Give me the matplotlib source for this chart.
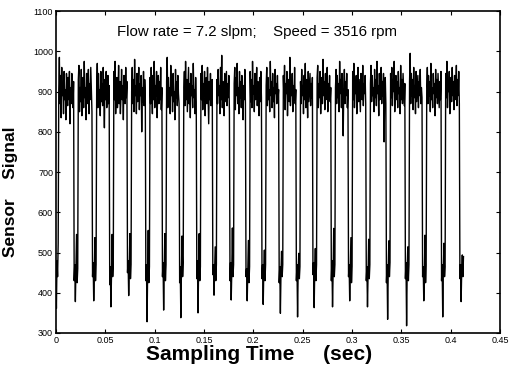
import numpy as np
import matplotlib
matplotlib.use('Agg')
import matplotlib.pyplot as plt

# sensor samples, one list per shaft revolution (low dip first, then the high band)
sample_interval = 0.0006  # sec
cycles = [
    [445, 361, 480, 440, 523,
     905, 985, 870, 940, 835, 960, 890, 920, 845, 950, 880, 905, 830, 945, 900, 865, 935, 880, 950, 820, 910, 870, 945, 895, 860, 925],
    [430, 470, 378, 455, 545, 425, 460,
     930, 965, 850, 910, 875, 955, 840, 900, 935, 860, 975, 885, 910, 830, 945, 870, 900, 955, 845, 920, 880, 960, 900, 850],
    [440, 475, 380, 450, 537, 430, 470,
     915, 970, 860, 945, 885, 905, 840, 950, 875, 920, 865, 960, 895, 810, 930, 880, 950, 860, 905, 940, 870, 915],
    [420, 465, 365, 445, 545, 440, 475,
     950, 880, 975, 845, 910, 935, 860, 900, 965, 870, 925, 845, 890, 955, 880, 915, 830, 940, 900, 870, 960, 885, 925],
    [450, 480, 393, 460, 547, 435, 470,
     900, 960, 870, 930, 850, 980, 890, 915, 845, 945, 875, 905, 960, 855, 920, 890, 940, 800, 910, 875, 950, 865, 930, 900],
    [430, 470, 328, 455, 555, 425, 465,
     935, 870, 960, 895, 845, 940, 880, 975, 860, 915, 890, 950, 835, 905, 940, 870, 925, 880, 960, 855, 910],
    [440, 475, 357, 450, 547, 430, 470,
     925, 985, 860, 935, 880, 910, 845, 965, 890, 920, 850, 945, 875, 900, 830, 955, 885, 925, 865, 940, 895, 870],
    [425, 465, 338, 455, 541, 440, 475,
     910, 950, 865, 975, 880, 930, 850, 905, 960, 870, 920, 835, 945, 890, 915, 860, 970, 885, 905, 845, 935, 875],
    [435, 480, 350, 460, 547, 430, 465,
     945, 880, 965, 855, 920, 890, 950, 840, 910, 935, 870, 960, 895, 820, 925, 880, 945, 865, 905, 930],
    [445, 470, 394, 450, 514, 430, 470,
     930, 870, 955, 890, 915, 845, 960, 880, 990, 860, 925, 900, 840, 945, 875, 910, 950, 865, 920, 885, 940, 850],
    [430, 475, 382, 455, 561, 440, 470,
     920, 960, 855, 935, 890, 970, 870, 910, 845, 950, 885, 925, 860, 940, 900, 830, 915, 880, 955, 870],
    [440, 460, 380, 450, 530, 425, 465,
     950, 875, 930, 860, 975, 895, 915, 850, 945, 880, 905, 960, 865, 925, 890, 840, 935, 875, 950, 885],
    [435, 470, 371, 455, 506, 430, 470,
     915, 960, 865, 935, 880, 905, 850, 975, 890, 925, 860, 945, 875, 910, 835, 955, 895, 920, 870, 940, 880, 905],
    [425, 465, 349, 450, 503, 440, 470,
     940, 885, 965, 855, 920, 895, 950, 840, 910, 930, 875, 985, 865, 925, 890, 945, 850, 915, 880, 960, 870, 905],
    [430, 470, 340, 455, 498, 435, 465,
     925, 870, 955, 890, 915, 845, 940, 880, 970, 860, 930, 900, 835, 950, 875, 910, 945, 865, 920, 885, 935],
    [445, 475, 363, 460, 510, 430, 470,
     935, 965, 860, 920, 885, 950, 845, 910, 935, 870, 980, 890, 925, 855, 945, 880, 905, 960, 850, 920, 890, 940, 875, 910],
    [430, 480, 365, 450, 560, 440, 470,
     910, 955, 870, 940, 885, 920, 850, 975, 895, 930, 860, 945, 880, 790, 915, 955, 870, 925, 890, 945, 860, 905],
    [440, 470, 380, 455, 537, 425, 465,
     950, 880, 970, 860, 925, 895, 940, 845, 915, 960, 875, 930, 890, 850, 945, 905, 880, 965, 865, 920, 895, 940, 870],
    [430, 465, 365, 450, 533, 435, 470,
     920, 965, 875, 940, 890, 910, 850, 955, 885, 930, 865, 975, 895, 915, 840, 945, 880, 905, 960, 870, 925, 890, 945, 775, 900, 935, 870],
    [425, 470, 334, 455, 529, 440, 475,
     945, 885, 960, 865, 930, 900, 975, 850, 915, 940, 880, 925, 860, 950, 895, 910, 845, 965, 880, 930, 870, 945, 905, 865, 920],
    [435, 475, 318, 460, 514, 430, 470,
     925, 995, 870, 945, 890, 930, 855, 960, 885, 915, 845, 950, 875, 905, 940, 860, 925, 890, 955, 870, 910, 885],
    [440, 465, 380, 450, 543, 425, 470,
     915, 960, 870, 940, 890, 925, 850, 970, 880, 910, 860, 945, 895, 920, 840, 955, 885, 930, 870, 945, 900, 860, 925, 880, 950],
    [430, 470, 340, 455, 523, 440, 465,
     945, 885, 975, 860, 920, 900, 950, 845, 915, 935, 875, 960, 890, 925, 855, 940, 880, 905, 965, 865, 930, 890, 950, 870],
    [435, 470, 378, 455, 494, 440, 490],
]

x_ticks = [0, 0.05, 0.1, 0.15, 0.2, 0.25, 0.3, 0.35, 0.4, 0.45]
x_tick_labels = ['0', '0.05', '0.1', '0.15', '0.2', '0.25', '0.3', '0.35', '0.4', '0.45']
y_ticks = [300, 400, 500, 600, 700, 800, 900, 1000, 1100]

signal = np.concatenate([np.array(c, dtype=float) for c in cycles])
time = np.arange(len(signal)) * sample_interval

plt.rcParams['font.family'] = ['Liberation Sans', 'DejaVu Sans']

fig = plt.figure(figsize=(5.12, 3.70), dpi=100)
ax = fig.add_axes([0.109, 0.1, 0.868, 0.870])
ax.plot(time, signal, color='black', linewidth=1.0)

ax.set_xlim(0, 0.45)
ax.set_ylim(300, 1100)
ax.set_xticks(x_ticks)
ax.set_xticklabels(x_tick_labels)
ax.set_yticks(y_ticks)
ax.tick_params(direction='in', top=True, right=True, labelsize=6.5, length=3, width=0.8, pad=2)
for spine in ax.spines.values():
    spine.set_linewidth(1.2)

ax.text(0.0616, 1048, 'Flow rate = 7.2 slpm;    Speed = 3516 rpm', fontsize=10.8, ha='left', va='center')

ax.set_xlabel('Sampling Time     (sec)', fontsize=15, fontweight='bold')
ax.xaxis.set_label_coords(0.457, -0.036)
ax.set_ylabel('Sensor    Signal', fontsize=12.5, fontweight='bold')
ax.yaxis.set_label_coords(-0.085, 0.44)

fig.savefig('out.png', dpi=100)
